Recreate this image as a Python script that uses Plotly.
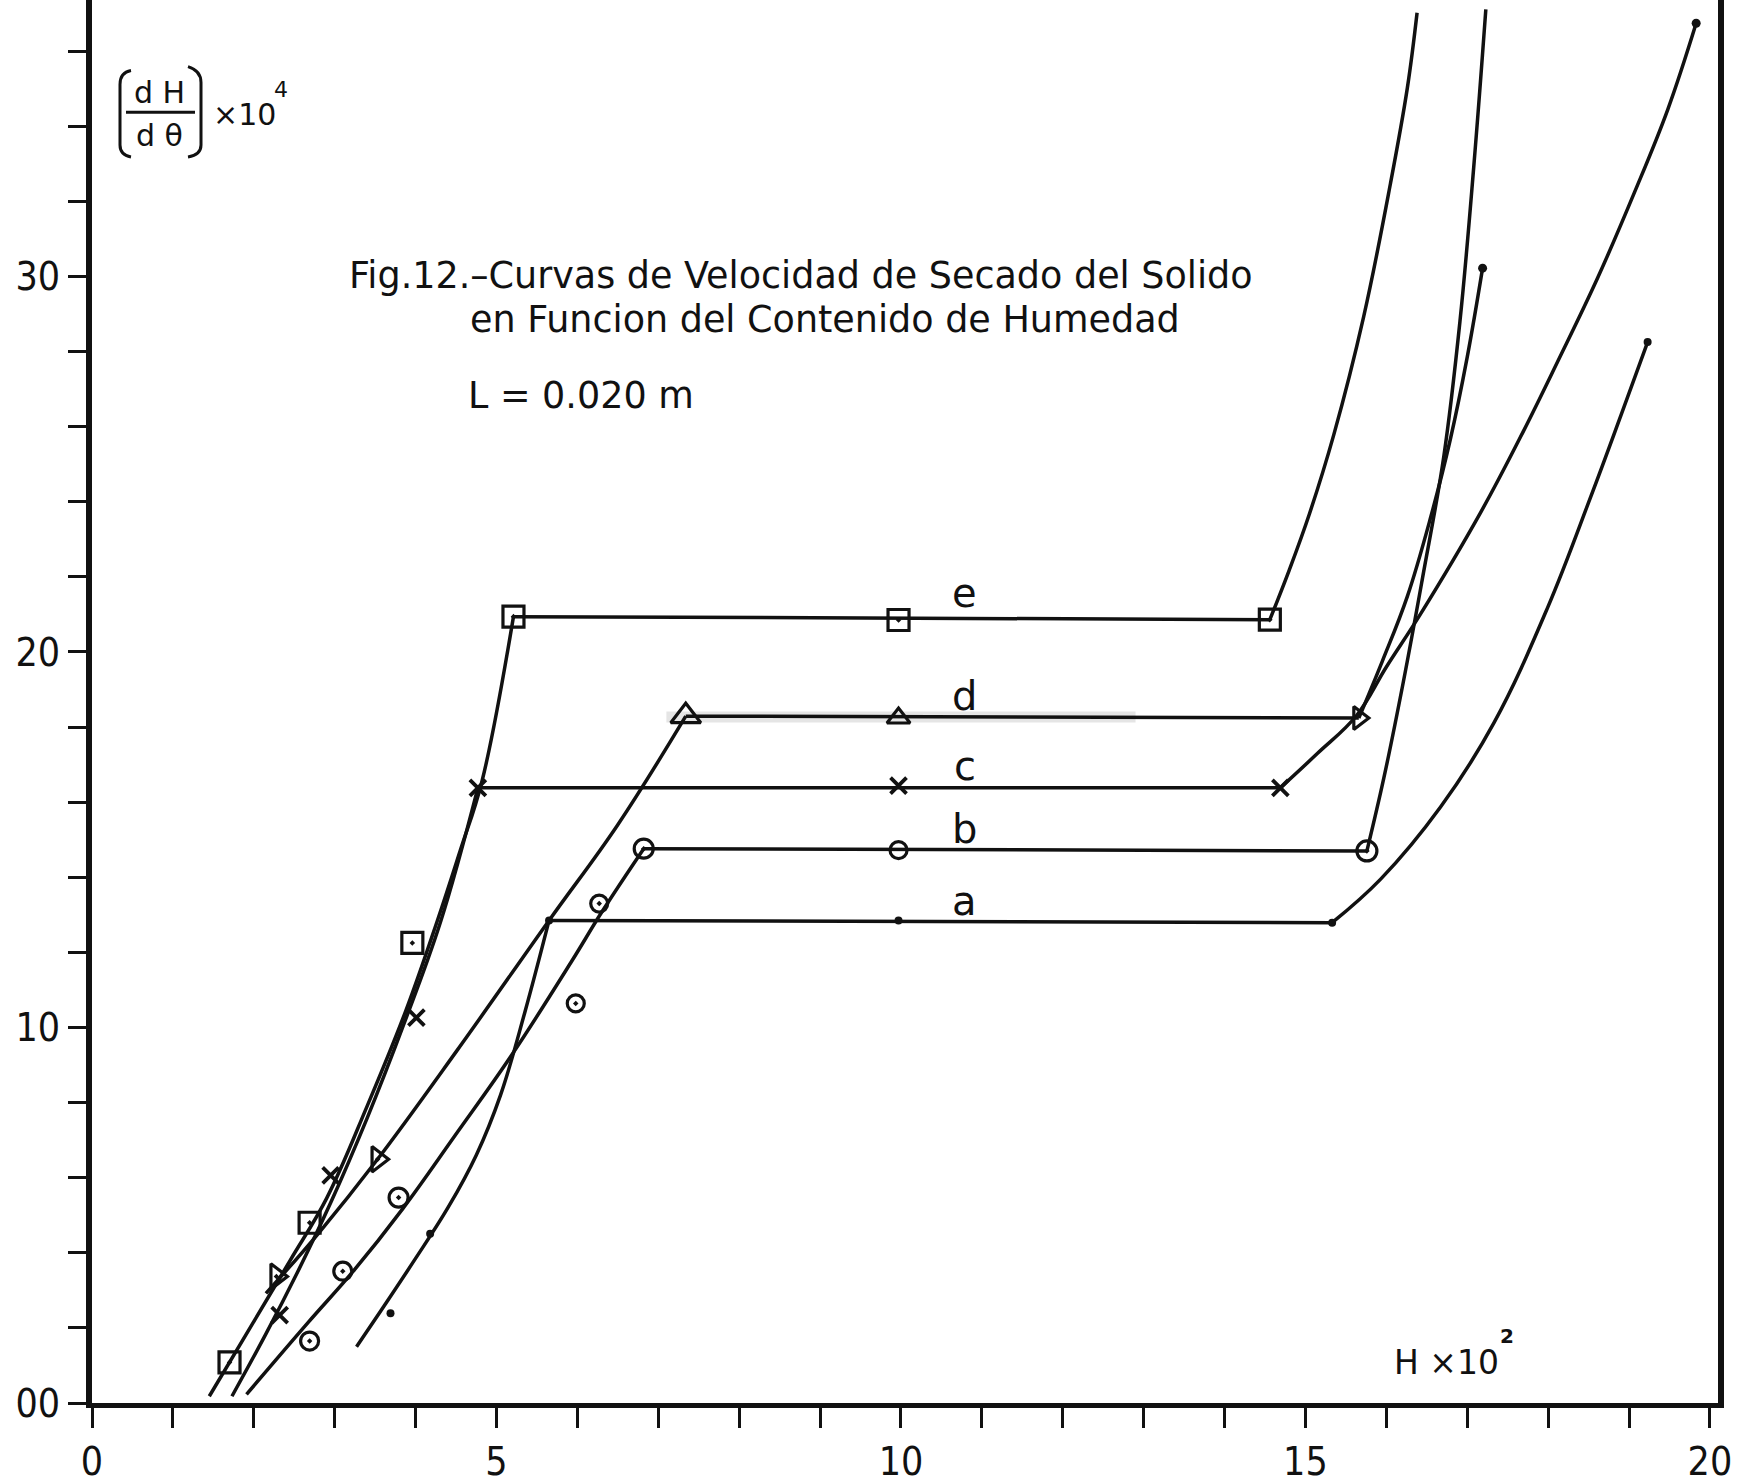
import plotly.graph_objects as go

# ---------------------------------------------------------------------------
# Drying-rate curves  dH/dθ (x10^4)  versus moisture content H (x10^2)
# Each run: falling-rate branch (left), constant-rate plateau, initial branch (right)
# ---------------------------------------------------------------------------

# run a  (dots)
a_left_x = [3.27, 3.60, 4.00, 4.40, 4.75, 5.05, 5.35, 5.65]
a_left_y = [1.50, 2.55, 3.85, 5.20, 6.60, 8.20, 10.40, 12.85]
a_plat_x = [5.65, 15.33]
a_plat_y = [12.85, 12.79]
a_right_x = [15.33, 15.93, 16.67, 17.33, 17.99, 18.53, 18.90, 19.23]
a_right_y = [12.79, 13.95, 15.87, 18.11, 21.16, 24.15, 26.30, 28.25]
a_pts_x = [3.69, 4.18, 5.65, 9.97, 15.33, 19.23]
a_pts_y = [2.39, 4.51, 12.85, 12.85, 12.79, 28.25]

# run b  (circles)
b_left_x = [1.91, 2.67, 3.23, 3.84, 4.49, 5.18, 5.92, 6.31, 6.82]
b_left_y = [0.23, 2.14, 3.51, 5.17, 7.13, 9.24, 11.73, 13.10, 14.76]
b_plat_x = [6.82, 15.76]
b_plat_y = [14.76, 14.70]
b_right_x = [15.76, 15.97, 16.21, 16.45, 16.71, 16.91, 17.08, 17.23]
b_right_y = [14.70, 16.65, 19.20, 22.00, 25.20, 28.80, 32.90, 37.11]
b_pts_x = [2.69, 3.10, 3.79, 5.98, 6.27, 6.82, 9.97, 15.76]
b_pts_y = [1.65, 3.51, 5.47, 10.64, 13.30, 14.76, 14.72, 14.70]

# run c  (crosses)
c_left_x = [1.73, 2.15, 2.54, 2.95, 3.40, 3.85, 4.31, 4.77]
c_left_y = [0.18, 1.84, 3.48, 5.33, 7.58, 10.06, 12.82, 16.38]
c_plat_x = [4.77, 14.69]
c_plat_y = [16.38, 16.38]
c_right_x = [14.69, 15.15, 15.63, 16.00, 16.42, 17.17, 17.70, 18.12, 18.61, 19.07, 19.48, 19.83]
c_right_y = [16.38, 17.30, 18.30, 19.60, 21.00, 23.73, 25.90, 27.74, 29.95, 32.25, 34.45, 36.74]
c_pts_x = [2.32, 2.95, 4.01, 4.77, 9.97, 14.69]
c_pts_y = [2.34, 6.06, 10.26, 16.38, 16.44, 16.38]

# run d  (triangles)
d_left_x = [2.15, 2.80, 3.53, 4.50, 5.65, 6.50, 7.34]
d_left_y = [2.92, 4.52, 6.49, 9.35, 12.85, 15.40, 18.29]
d_plat_x = [7.34, 15.66]
d_plat_y = [18.29, 18.24]
d_right_x = [15.66, 15.95, 16.26, 16.55, 16.79, 17.00, 17.19]
d_right_y = [18.24, 19.75, 21.48, 23.60, 25.65, 27.85, 30.22]
d_pts_x = [2.28, 3.53, 7.34, 9.97, 15.66]
d_pts_y = [3.37, 6.49, 18.29, 18.24, 18.24]

# run e  (squares)
e_left_x = [1.45, 2.02, 2.45, 2.90, 3.40, 3.88, 4.27, 4.55, 4.82, 5.21]
e_left_y = [0.18, 2.24, 3.80, 5.45, 7.90, 10.45, 12.85, 14.70, 16.55, 20.94]
e_plat_x = [5.21, 14.56]
e_plat_y = [20.94, 20.86]
e_right_x = [14.56, 14.80, 15.05, 15.35, 15.72, 16.05, 16.26, 16.38]
e_right_y = [20.86, 22.18, 23.68, 25.78, 28.93, 32.46, 35.02, 37.02]
e_pts_x = [1.70, 2.69, 3.96, 5.21, 9.97, 14.56]
e_pts_y = [1.08, 4.80, 12.25, 20.94, 20.85, 20.86]

# curve labels
run_names = ["e", "d", "c", "b", "a"]
run_label_x = [10.79, 10.79, 10.79, 10.79, 10.79]
run_label_y = [21.56, 18.82, 16.97, 15.29, 13.38]

# axis ticks
x_tick_vals = [0, 5, 10, 15, 20]
x_tick_text = ["0", "5", "10", "15", "20"]
y_tick_vals = [0, 10, 20, 30]
y_tick_text = ["00", "10", "20", "30"]

# ---------------------------------------------------------------------------
W, H = 1743, 1484
ML, MR, MT, MB = 92, 25, 0, 72
X_RANGE = [0, 20.1]
Y_RANGE = [0, 37.36]
INK = "#111111"
LW = 3.5
TXT_FONT = "DejaVu Sans"
NUM_FONT = "Liberation Sans Narrow, DejaVu Sans Condensed, Liberation Sans"

PW = W - ML - MR
PH = H - MT - MB


def px(xp):
    """pixel column -> paper x"""
    return (xp - ML) / PW


def py(yp):
    """pixel row -> paper y"""
    return (H - MB - yp) / PH


fig = go.Figure()

# faint smudge along the plateau of run d
fig.add_trace(go.Scatter(x=[7.1, 12.9], y=[18.27, 18.27], mode="lines",
                         line=dict(color="rgba(0,0,0,0.10)", width=11),
                         hoverinfo="skip", showlegend=False))


def add_curve(lx, ly, plx, ply, rx, ry):
    for xs, ys, shape in ((lx, ly, "spline"), (plx, ply, "linear"), (rx, ry, "spline")):
        fig.add_trace(go.Scatter(x=xs, y=ys, mode="lines",
                                 line=dict(color=INK, width=LW, shape=shape, smoothing=1.1),
                                 hoverinfo="skip", showlegend=False))


add_curve(a_left_x, a_left_y, a_plat_x, a_plat_y, a_right_x, a_right_y)
add_curve(b_left_x, b_left_y, b_plat_x, b_plat_y, b_right_x, b_right_y)
add_curve(c_left_x, c_left_y, c_plat_x, c_plat_y, c_right_x, c_right_y)
add_curve(d_left_x, d_left_y, d_plat_x, d_plat_y, d_right_x, d_right_y)
add_curve(e_left_x, e_left_y, e_plat_x, e_plat_y, e_right_x, e_right_y)

# end dots of the curves that stop inside the frame
fig.add_trace(go.Scatter(x=[c_right_x[-1], d_right_x[-1]], y=[c_right_y[-1], d_right_y[-1]],
                         mode="markers", marker=dict(symbol="circle", size=9, color=INK, opacity=1),
                         showlegend=False, hoverinfo="skip"))

# experimental points
fig.add_trace(go.Scatter(x=a_pts_x, y=a_pts_y, mode="markers",
                         marker=dict(symbol="circle", size=8, color=INK, opacity=1),
                         showlegend=False))
fig.add_trace(go.Scatter(x=b_pts_x, y=b_pts_y, mode="markers",
                         marker=dict(symbol=["circle-open-dot"] * 6 + ["circle-open", "circle-open-dot"],
                                     size=[18, 18, 19, 17, 17, 19, 17, 20], color=INK, opacity=1,
                                     line=dict(width=3.2, color=INK)),
                         showlegend=False))
fig.add_trace(go.Scatter(x=c_pts_x, y=c_pts_y, mode="markers",
                         marker=dict(symbol="x-thin-open", size=16, color=INK, opacity=1,
                                     line=dict(width=3.8, color=INK)),
                         showlegend=False))
fig.add_trace(go.Scatter(x=d_pts_x, y=d_pts_y, mode="markers",
                         marker=dict(symbol=["triangle-right-open-dot", "triangle-right-open-dot",
                                             "triangle-up-open", "triangle-up-open",
                                             "triangle-right-open"],
                                     size=[22, 22, 26, 20, 20], color=INK, opacity=1,
                                     line=dict(width=3.2, color=INK)),
                         showlegend=False))
fig.add_trace(go.Scatter(x=e_pts_x, y=e_pts_y, mode="markers",
                         marker=dict(symbol="square-open-dot", size=21, color=INK, opacity=1,
                                     line=dict(width=3.2, color=INK)),
                         showlegend=False))

annotations = []
for name, lx, ly in zip(run_names, run_label_x, run_label_y):
    annotations.append(dict(x=lx, y=ly, xref="x", yref="y", text=name, showarrow=False,
                            xanchor="center", yanchor="middle",
                            font=dict(family=TXT_FONT, size=40, color=INK)))

# title block
title_lines = [
    ("Fig.12.–Curvas de Velocidad de Secado del Solido", 347, 277),
    ("en Funcion del Contenido de Humedad", 468, 322),
    ("L = 0.020 m", 466, 398),
]
for txt, x0, y0 in title_lines:
    annotations.append(dict(x=px(x0), y=py(y0), xref="paper", yref="paper", text=txt,
                            showarrow=False, xanchor="left", yanchor="middle",
                            font=dict(family=TXT_FONT, size=36.5, color=INK)))

# y-axis quantity: [dH / dθ] x 10^4
annotations += [
    dict(x=px(159), y=py(93), text="d H", xanchor="center"),
    dict(x=px(159), y=py(136), text="d θ", xanchor="center"),
    dict(x=px(211), y=py(115), text="×10", xanchor="left"),
    dict(x=px(272), y=py(90), text="4", xanchor="left",
         font=dict(family=TXT_FONT, size=22, color=INK)),
]
# x-axis quantity: H x 10^2
annotations += [
    dict(x=px(1392), y=py(1371), text="H ×10", xanchor="left",
         font=dict(family=TXT_FONT, size=33, color=INK)),
    dict(x=px(1498), y=py(1345), text="<b>2</b>", xanchor="left",
         font=dict(family=TXT_FONT, size=20, color=INK)),
]
for ann in annotations:
    ann.setdefault("xref", "paper")
    ann.setdefault("yref", "paper")
    ann.setdefault("showarrow", False)
    ann.setdefault("yanchor", "middle")
    ann.setdefault("font", dict(family=TXT_FONT, size=30, color=INK))

shapes = [
    # fraction bar
    dict(type="line", xref="paper", yref="paper", x0=px(126), x1=px(195), y0=py(113), y1=py(113),
         line=dict(color=INK, width=3)),
    # left bracket
    dict(type="path", xref="paper", yref="paper",
         path=f"M {px(131)},{py(71)} Q {px(120)},{py(73)} {px(120)},{py(85)} "
              f"L {px(120)},{py(146)} Q {px(120)},{py(156)} {px(131)},{py(158)}",
         line=dict(color=INK, width=3)),
    # right bracket
    dict(type="path", xref="paper", yref="paper",
         path=f"M {px(188)},{py(67)} Q {px(201)},{py(71)} {px(201)},{py(83)} "
              f"L {px(201)},{py(146)} Q {px(201)},{py(156)} {px(188)},{py(158)}",
         line=dict(color=INK, width=3)),
]

fig.update_layout(
    width=W, height=H,
    margin=dict(l=ML, r=MR, t=MT, b=MB, pad=0),
    paper_bgcolor="white", plot_bgcolor="white",
    showlegend=False,
    annotations=annotations,
    shapes=shapes,
    xaxis=dict(range=X_RANGE, showgrid=False, zeroline=False,
               showline=True, linecolor=INK, linewidth=5, mirror=False,
               tickvals=x_tick_vals, ticktext=x_tick_text,
               ticks="outside", ticklen=20, tickwidth=3, tickcolor=INK,
               minor=dict(dtick=1, tick0=0, ticks="outside", ticklen=20, tickwidth=3, tickcolor=INK,
                          showgrid=False),
               tickfont=dict(family=NUM_FONT, size=39, color=INK)),
    yaxis=dict(range=Y_RANGE, showgrid=False, zeroline=False,
               showline=True, linecolor=INK, linewidth=6, mirror=True,
               tickvals=y_tick_vals, ticktext=y_tick_text,
               ticks="outside", ticklen=18, tickwidth=3, tickcolor=INK,
               minor=dict(dtick=2, tick0=0, ticks="outside", ticklen=18, tickwidth=3, tickcolor=INK,
                          showgrid=False),
               tickfont=dict(family=NUM_FONT, size=39, color=INK)),
)

fig.write_html("out.html")
